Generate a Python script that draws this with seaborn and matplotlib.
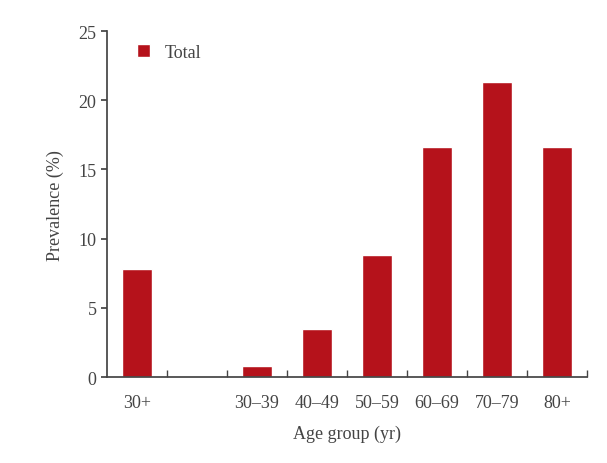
import matplotlib
matplotlib.use("Agg")
import matplotlib.pyplot as plt
import seaborn as sns
import pandas as pd
import numpy as np

sns.set_theme(style="white")
plt.rcParams["font.family"] = ["Liberation Serif", "DejaVu Serif"]

groups = ["30+", "", "30–39", "40–49", "50–59", "60–69", "70–79", "80+"]
prevalence = [7.8, np.nan, 0.8, 3.5, 8.8, 16.6, 21.3, 16.6]

df = pd.DataFrame({"group": groups, "prev": prevalence, "pos": range(len(groups))})

fig = plt.figure(figsize=(6.07, 4.64), dpi=100)
ax = fig.add_axes([0.176, 0.185, 0.791, 0.746])
sns.barplot(data=df, x="pos", y="prev", color="#B5121B", width=0.5, saturation=1,
            ax=ax, label="Total", native_scale=False)

ax.set_xlim(-0.5, len(groups) - 0.5)
ax.set_ylim(0, 25)
ax.set_yticks([0, 5, 10, 15, 20, 25])
ax.set_xticks(range(len(groups)))
ax.set_xticklabels(groups)
ax.set_xticks(np.arange(0.5, len(groups) - 0.5 + 0.01, 1), minor=True)
ax.tick_params(axis="x", which="major", length=0, labelsize=13, colors="#444444", pad=12)
ax.tick_params(axis="x", which="minor", direction="in", length=5, bottom=True, color="#444444")
ax.tick_params(axis="y", direction="out", length=4, left=True, labelsize=13, colors="#444444")
for s in ["top", "right"]:
    ax.spines[s].set_visible(False)
for s in ["left", "bottom"]:
    ax.spines[s].set_color("#444444")
ax.set_xlabel("Age group (yr)", fontsize=13, color="#444444", labelpad=10)
ax.set_ylabel("Prevalence (%)", fontsize=13, color="#444444", labelpad=10)
ax.legend(loc="upper left", frameon=False, fontsize=13, handlelength=0.7, handleheight=0.7,
          bbox_to_anchor=(0.03, 1.01), labelcolor="#444444")

fig.savefig("out.png", dpi=100)
